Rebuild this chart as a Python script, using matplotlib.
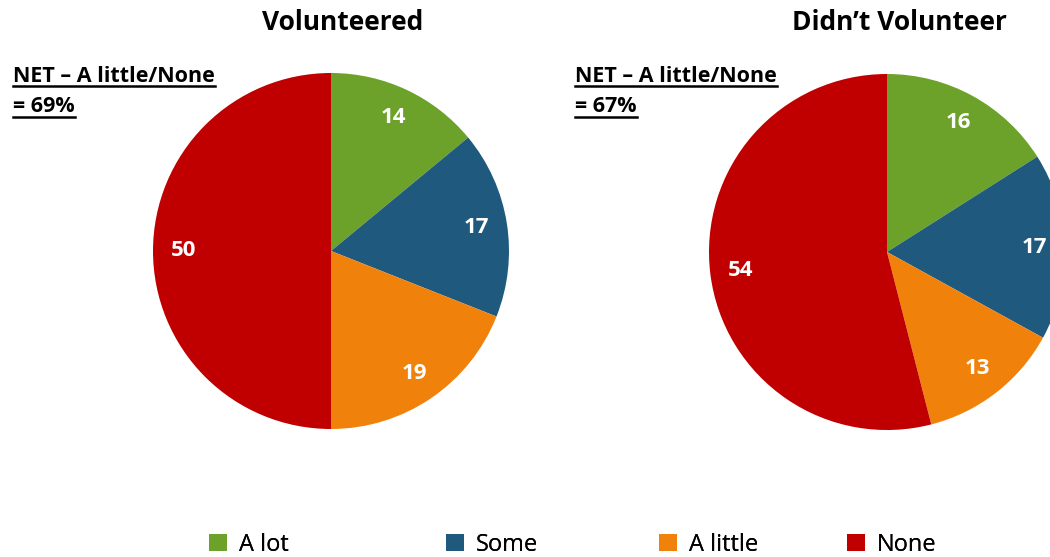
import matplotlib.pyplot as plt
from matplotlib.lines import Line2D

plt.rcParams['font.family'] = ['Open Sans', 'DejaVu Sans']

categories = ['A lot', 'Some', 'A little', 'None']
volunteered = [14, 17, 19, 50]
didnt_volunteer = [16, 17, 13, 54]
titles = ['Volunteered', 'Didn\u2019t Volunteer']
net_labels = ['NET \u2013 A little/None\n= 69%', 'NET \u2013 A little/None\n= 67%']
colors = ['#6ca12a', '#1f5a7e', '#f0820c', '#c00000']

W, H = 1050, 557
fig = plt.figure(figsize=(W / 100, H / 100), dpi=100)


def px_axes(cx, cy, r):
    return fig.add_axes([(cx - r) / W, (H - cy - r) / H, 2 * r / W, 2 * r / H])


pies = [(331, 251, volunteered), (887, 252, didnt_volunteer)]
for (cx, cy, vals) in pies:
    ax = px_axes(cx, cy, 178)
    wedges, texts, autotexts = ax.pie(vals, colors=colors, startangle=90, counterclock=False,
                                      autopct=lambda p: f'{p:.0f}', pctdistance=0.83,
                                      radius=1, wedgeprops=dict(linewidth=0))
    for t in autotexts:
        t.set_color('white')
        t.set_fontweight('bold')
        t.set_fontsize(16)
    ax.set_xlim(-1, 1)
    ax.set_ylim(-1, 1)
    ax.set_aspect('equal')

# titles
fig.text(343 / W, 1 - 23 / H, titles[0], ha='center', va='center', fontsize=19, fontweight='bold')
fig.text(899 / W, 1 - 23 / H, titles[1], ha='center', va='center', fontsize=19, fontweight='bold')

# NET annotations with underline
net_pos = [(13, 76), (575, 76)]
net_texts = []
for (x, y), lab in zip(net_pos, net_labels):
    line1, line2 = lab.split('\n')
    t1 = fig.text(x / W, 1 - y / H, line1, ha='left', va='center', fontsize=15.5, fontweight='bold')
    t2 = fig.text(x / W, 1 - (y + 31) / H, line2, ha='left', va='center', fontsize=15.5, fontweight='bold')
    net_texts += [t1, t2]

fig.canvas.draw()
renderer = fig.canvas.get_renderer()
for t in net_texts:
    bb = t.get_window_extent(renderer)
    yline = (bb.y0 + 1) / H
    fig.add_artist(Line2D([bb.x0 / W, bb.x1 / W], [yline, yline], color='black', lw=1.8))

# legend, one entry per spot
leg_x = [209, 446, 659, 847]
for w, cat, x in zip(wedges, categories, leg_x):
    leg = fig.legend([w], [cat], loc='center left', bbox_to_anchor=(x / W, 1 - 545 / H),
                     frameon=False, fontsize=17, handlelength=0.75, handleheight=0.75,
                     handletextpad=0.5, borderaxespad=0, borderpad=0)
    fig.add_artist(leg)

fig.savefig('out.png', dpi=100)
